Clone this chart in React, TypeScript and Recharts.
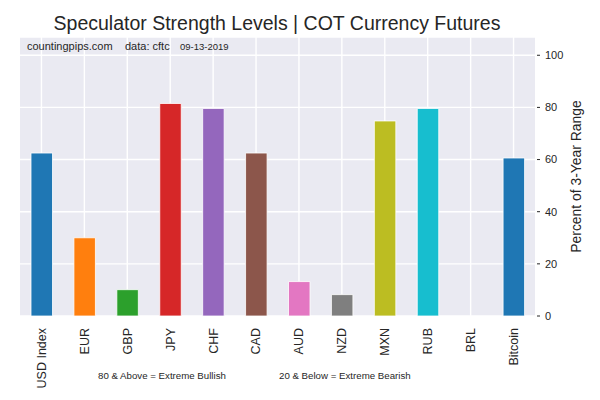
import { BarChart, Bar, Cell, CartesianGrid, XAxis, YAxis } from "recharts";

const currencies = [
  "USD Index", "EUR", "GBP", "JPY", "CHF", "CAD",
  "AUD", "NZD", "MXN", "RUB", "BRL", "Bitcoin",
];
const strength = [62.5, 30, 10.1, 81.5, 79.6, 62.5, 13.2, 8.2, 74.8, 79.6, 0, 60.6];
const barColors = [
  "#1f77b4", "#ff7f0e", "#2ca02c", "#d62728", "#9467bd", "#8c564b",
  "#e377c2", "#7f7f7f", "#bcbd22", "#17becf", "#1f77b4", "#1f77b4",
];
const yTicks = [0, 20, 40, 60, 80, 100];

const font = "'Liberation Sans', Arial, sans-serif";
const ink = "#262626";

const data = currencies.map((name, i) => ({ name, value: strength[i] }));

// vertical grid lines through the middle of each category band
const categoryCentres = (args: any) => {
  const off = args.offset;
  return currencies.map((_, i) => off.left + ((i + 0.5) * off.width) / currencies.length);
};

function XTick({ x, y, payload }: any) {
  return (
    <g transform={`translate(${x},${y})`}>
      <text transform="rotate(-90)" x={-10} dy="0.35em" textAnchor="end" fontSize={12.5} fontFamily={font} fill={ink}>
        {payload.value}
      </text>
    </g>
  );
}

function YTick({ x, y, payload }: any) {
  return (
    <g>
      <line x1={x + 2} x2={x + 5} y1={y} y2={y} stroke={ink} strokeWidth={1} />
      <text x={x + 10} y={y} dy="0.35em" fontSize={11} fontFamily={font} fill={ink}>
        {payload.value}
      </text>
    </g>
  );
}

export default function App() {
  return (
    <div style={{ position: "fixed", left: 0, top: 0, width: 600, height: 400, background: "#fff" }}>
      <BarChart width={600} height={400} data={data} margin={{ top: 37, right: 0, bottom: 0, left: 20 }}>
        <CartesianGrid
          stroke="#ffffff"
          strokeWidth={1.4}
          fill="#eaeaf2"
          fillOpacity={1}
          verticalCoordinatesGenerator={categoryCentres}
        />
        <XAxis dataKey="name" height={84} interval={0} axisLine={false} tickLine={false} tickSize={0} tick={<XTick />} />
        <YAxis
          orientation="right"
          width={65}
          domain={[0, 107]}
          ticks={yTicks}
          axisLine={false}
          tickLine={false}
          tickSize={0}
          tickMargin={0}
          tick={<YTick />}
        />
        <Bar dataKey="value" barSize={21.5} stroke="#ffffff" strokeWidth={0.8} isAnimationActive={false}>
          {data.map((d, i) => (
            <Cell key={d.name} fill={barColors[i]} />
          ))}
        </Bar>
      </BarChart>
      <svg
        width={600}
        height={400}
        style={{ position: "absolute", left: 0, top: 0, pointerEvents: "none" }}
        fontFamily={font}
        fill={ink}
      >
        <text x={277} y={30} textAnchor="middle" fontSize={19.5}>
          Speculator Strength Levels | COT Currency Futures
        </text>
        <text x={27} y={50} fontSize={11}>countingpips.com</text>
        <text x={125} y={50} fontSize={11}>data: cftc</text>
        <text x={180} y={50} fontSize={9.5}>09-13-2019</text>
        <text x={581} y={176.5} textAnchor="middle" fontSize={13.9} transform="rotate(-90, 581, 176.5)">
          Percent of 3-Year Range
        </text>
        <text x={98} y={379} fontSize={9.7}>80 &amp; Above = Extreme Bullish</text>
        <text x={279} y={379} fontSize={9.7}>20 &amp; Below = Extreme Bearish</text>
      </svg>
    </div>
  );
}
